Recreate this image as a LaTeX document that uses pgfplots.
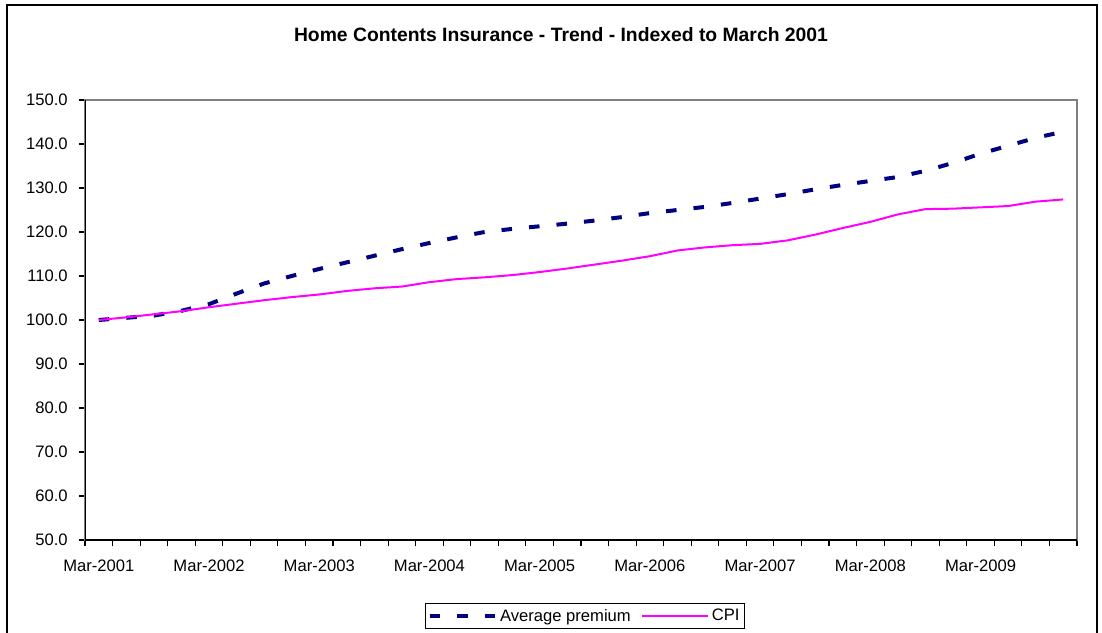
\documentclass[border=0pt]{standalone}
\usepackage{pgfplots}
\usepackage{pgfplotstable}
\pgfplotsset{compat=1.18}
\usepackage{fontspec}
\setmainfont{Liberation Sans}

\definecolor{premblue}{RGB}{0,0,128}
\definecolor{cpipink}{RGB}{255,0,255}

% quarterly, Mar-2001 = 0 ... Dec-2009 = 35
\pgfplotstableread{
q  prem   cpi
0  100.0  100.0
1  100.5  100.6
2  101.0  101.3
3  102.1  102.0
4  103.6  102.9
5  106.0  103.7
6  108.3  104.5
7  110.0  105.2
8  111.6  105.8
9  113.1  106.6
10 114.6  107.2
11 116.1  107.6
12 117.5  108.6
13 118.8  109.3
14 120.0  109.7
15 120.7  110.2
16 121.3  110.9
17 121.9  111.7
18 122.6  112.6
19 123.4  113.5
20 124.3  114.5
21 125.0  115.8
22 125.7  116.5
23 126.6  117.0
24 127.6  117.3
25 128.6  118.1
26 129.7  119.4
27 130.7  120.9
28 131.6  122.3
29 132.5  124.0
30 133.9  125.2
31 135.7  125.3
32 137.8  125.6
33 139.6  125.9
34 141.4  126.9
35 142.8  127.4
}\indexdata

\begin{document}
\begin{tikzpicture}[x=0.75pt,y=0.75pt]
\useasboundingbox (0,0) rectangle (1102,632);
% outer chart frame
\draw[black,line width=1.1pt] (7,-20) -- (7,627) -- (1097,627) -- (1097,-20);
\node[font=\bfseries\fontsize{14.5}{17}\selectfont] at (561,597)
  {Home Contents Insurance - Trend - Indexed to March 2001};

\begin{axis}[
    at={(63.75pt,69pt)}, anchor=south west,
    width=744pt, height=330pt, scale only axis,
    xmin=-0.5, xmax=35.5,
    ymin=50, ymax=150,
    ytick={50,60,...,150},
    xtick={0,4,...,32},
    xticklabels={Mar-2001,Mar-2002,Mar-2003,Mar-2004,Mar-2005,Mar-2006,Mar-2007,Mar-2008,Mar-2009},
    minor xtick={-0.5,0.5,...,35.5},
    major x tick style={draw=none},
    xtick pos=lower, ytick pos=left,
    tick align=outside,
    major tick length=4.5pt, minor tick length=4.5pt,
    tick style={black,line width=0.8pt},
    axis line style={draw=gray,line width=1.1pt},
    tick label style={font=\fontsize{12.45}{14}\selectfont},
    xticklabel shift=7pt,
    yticklabel shift=5pt,
    /pgf/number format/assume math mode=true,
    y tick label style={/pgf/number format/fixed,
      /pgf/number format/fixed zerofill,
      /pgf/number format/precision=1},
    legend style={at={(0.504,-0.1727)}, anchor=center,
      legend columns=2, draw=black, line width=0.8pt,
      font=\fontsize{12.45}{14}\selectfont,
      inner sep=2pt,
      /tikz/every even column/.append style={column sep=6pt}},
    legend image code/.code={\draw[#1] (0pt,0pt) -- (49.3pt,0pt);},
]
\addplot[premblue, line width=3pt, dash pattern=on 7.9pt off 12.8pt, line cap=butt]
  table[x=q, y=prem] {\indexdata};
\addplot[cpipink, line width=1.5pt]
  table[x=q, y=cpi] {\indexdata};
\draw[black,line width=1.1pt] (rel axis cs:0,1) -- (rel axis cs:0,0) -- (rel axis cs:1,0);
\legend{Average premium,CPI}
\end{axis}
\end{tikzpicture}
\end{document}
